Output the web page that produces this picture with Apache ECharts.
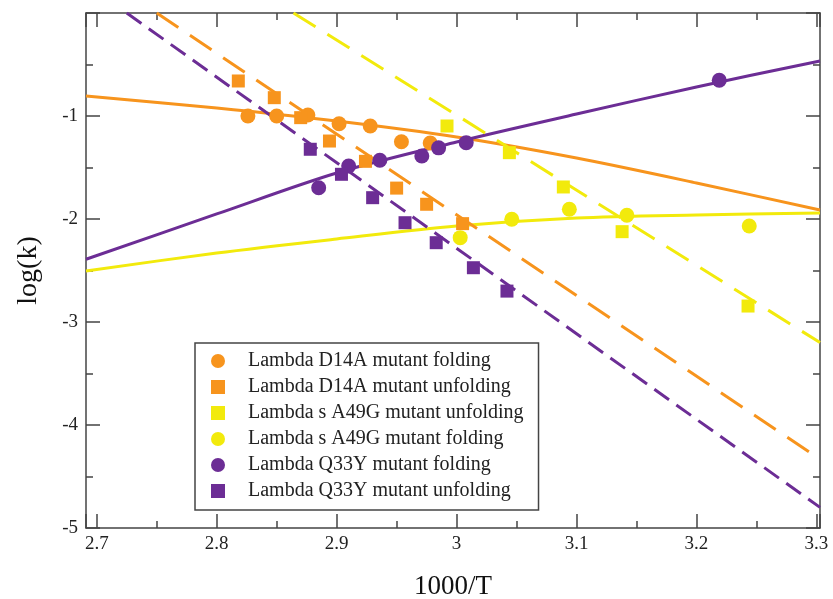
<!DOCTYPE html>
<html>
<head>
<meta charset="UTF-8">
<title>log(k) vs 1000/T</title>
<script src="https://cdn.jsdelivr.net/npm/echarts@6/dist/echarts.min.js"></script>
<style>
  html, body { margin: 0; padding: 0; background: #fff; }
  #chart { width: 833px; height: 599px; }
</style>
</head>
<body>
<div id="chart"></div>
<script>
// measured points (1000/T, log k)
var d14aFoldX = [2.826, 2.850, 2.876, 2.902, 2.928, 2.954, 2.978];
var d14aFoldY = [-1.00, -1.00, -0.99, -1.075, -1.097, -1.25, -1.262];
var d14aUnfoldX = [2.818, 2.848, 2.870, 2.894, 2.924, 2.950, 2.975, 3.005];
var d14aUnfoldY = [-0.66, -0.822, -1.016, -1.243, -1.44, -1.70, -1.857, -2.045];
var a49gUnfoldX = [2.992, 3.044, 3.089, 3.138, 3.243];
var a49gUnfoldY = [-1.097, -1.356, -1.689, -2.123, -2.845];
var a49gFoldX = [3.003, 3.046, 3.094, 3.142, 3.244];
var a49gFoldY = [-2.181, -2.003, -1.906, -1.964, -2.068];
var q33yFoldX = [2.885, 2.910, 2.936, 2.971, 2.985, 3.008, 3.219];
var q33yFoldY = [-1.696, -1.485, -1.43, -1.388, -1.309, -1.259, -0.653];
var q33yUnfoldX = [2.878, 2.904, 2.930, 2.957, 2.983, 3.014, 3.042];
var q33yUnfoldY = [-1.323, -1.566, -1.793, -2.036, -2.23, -2.473, -2.70];

// fitted curves
var fitX = [2.691, 2.8, 2.9, 3.0, 3.1, 3.2, 3.303];
var d14aFitY = [-0.806, -0.922, -1.049, -1.204, -1.408, -1.650, -1.913];
var a49gFitY = [-2.505, -2.33, -2.194, -2.068, -1.99, -1.961, -1.942];
var q33yFitY = [-2.391, -1.951, -1.553, -1.252, -0.981, -0.718, -0.466];

// dashed straight fits (end points)
var d14aDashX = [2.75, 3.303];
var d14aDashY = [0, -4.333];
var a49gDashX = [2.864, 3.303];
var a49gDashY = [0, -3.20];
var q33yDashX = [2.725, 3.303];
var q33yDashY = [0, -4.80];

var orange = '#F7941D', yellow = '#F2EA0C', purple = '#6C2D95';
var serif = 'Liberation Serif';

function pairs(xs, ys) {
    return xs.map(function (x, i) { return [x, ys[i]]; });
}

function scatter(name, xs, ys, color, symbol) {
    return {
        name: name,
        type: 'scatter',
        symbol: symbol,
        symbolSize: symbol === 'circle' ? 15 : 13,
        itemStyle: { color: color, opacity: 1 },
        data: pairs(xs, ys),
        z: 5
    };
}

function fit(name, xs, ys, color, dash, smooth) {
    return {
        name: name,
        type: 'line',
        showSymbol: false,
        symbol: 'none',
        smooth: smooth,
        lineStyle: { color: color, width: 3, type: dash },
        data: pairs(xs, ys),
        z: 3,
        silent: true
    };
}

var frameColor = '#444';
function xAx(pos, labels) {
    return {
        type: 'value', position: pos, min: 2.691, max: 3.303,
        axisLine: { show: true, onZero: false, lineStyle: { color: frameColor, width: 1.5 } },
        axisTick: { show: true, inside: true, length: 14, lineStyle: { color: frameColor, width: 1.5 } },
        minorTick: { show: true, splitNumber: 2, length: 7, lineStyle: { color: frameColor, width: 1.5 } },
        splitLine: { show: false },
        axisLabel: { show: labels, showMinLabel: false, showMaxLabel: false, margin: 7,
            fontFamily: serif, fontSize: 19, color: '#222' }
    };
}
function yAx(pos, labels) {
    return {
        type: 'value', position: pos, min: -5, max: 0, interval: 1,
        axisLine: { show: true, onZero: false, lineStyle: { color: frameColor, width: 1.5 } },
        axisTick: { show: true, inside: true, length: 14, lineStyle: { color: frameColor, width: 1.5 } },
        minorTick: { show: true, splitNumber: 2, length: 7, lineStyle: { color: frameColor, width: 1.5 } },
        splitLine: { show: false },
        axisLabel: { show: labels, showMaxLabel: false, margin: 8,
            fontFamily: serif, fontSize: 19, color: '#222' }
    };
}

var xBottom = xAx('bottom', true);
xBottom.name = '1000/T';
xBottom.nameLocation = 'middle';
xBottom.nameGap = 45;
xBottom.nameTextStyle = { fontFamily: serif, fontSize: 27, color: '#111' };
var yLeft = yAx('left', true);
yLeft.name = 'log(k)';
yLeft.nameLocation = 'middle';
yLeft.nameGap = 43;
yLeft.nameTextStyle = { fontFamily: serif, fontSize: 28, color: '#111' };

var names = [
    'Lambda D14A mutant folding',
    'Lambda D14A mutant unfolding',
    'Lambda s A49G mutant unfolding',
    'Lambda s A49G mutant folding',
    'Lambda Q33Y mutant folding',
    'Lambda Q33Y mutant unfolding'
];

var chart = echarts.init(document.getElementById('chart'));
chart.setOption({
    animation: false,
    backgroundColor: '#fff',
    grid: { left: 86, right: 13, top: 13, bottom: 71, containLabel: false, outerBoundsMode: 'none' },
    xAxis: [xBottom, xAx('top', false)],
    yAxis: [yLeft, yAx('right', false)],
    legend: {
        orient: 'vertical',
        left: 195, top: 343,
        data: [
            { name: names[0], icon: 'circle' },
            { name: names[1], icon: 'rect' },
            { name: names[2], icon: 'rect' },
            { name: names[3], icon: 'circle' },
            { name: names[4], icon: 'circle' },
            { name: names[5], icon: 'rect' }
        ],
        itemWidth: 14, itemHeight: 14, itemGap: 6,
        padding: [8, 15, 9, 16],
        borderColor: '#444', borderWidth: 1.5, borderRadius: 0,
        backgroundColor: '#fff',
        selectedMode: false,
        textStyle: { fontFamily: serif, fontSize: 20, color: '#222', padding: [0, 0, 0, 18] }
    },
    series: [
        fit('d14a fit', fitX, d14aFitY, orange, 'solid', 0.3),
        fit('a49g fit', fitX, a49gFitY, yellow, 'solid', 0.3),
        fit('q33y fit', fitX, q33yFitY, purple, 'solid', 0.3),
        fit('d14a dash', d14aDashX, d14aDashY, orange, [26, 14], false),
        fit('a49g dash', a49gDashX, a49gDashY, yellow, [26, 14], false),
        fit('q33y dash', q33yDashX, q33yDashY, purple, [18, 9], false),
        scatter(names[0], d14aFoldX, d14aFoldY, orange, 'circle'),
        scatter(names[1], d14aUnfoldX, d14aUnfoldY, orange, 'rect'),
        scatter(names[2], a49gUnfoldX, a49gUnfoldY, yellow, 'rect'),
        scatter(names[3], a49gFoldX, a49gFoldY, yellow, 'circle'),
        scatter(names[4], q33yFoldX, q33yFoldY, purple, 'circle'),
        scatter(names[5], q33yUnfoldX, q33yUnfoldY, purple, 'rect')
    ]
});
</script>
</body>
</html>
